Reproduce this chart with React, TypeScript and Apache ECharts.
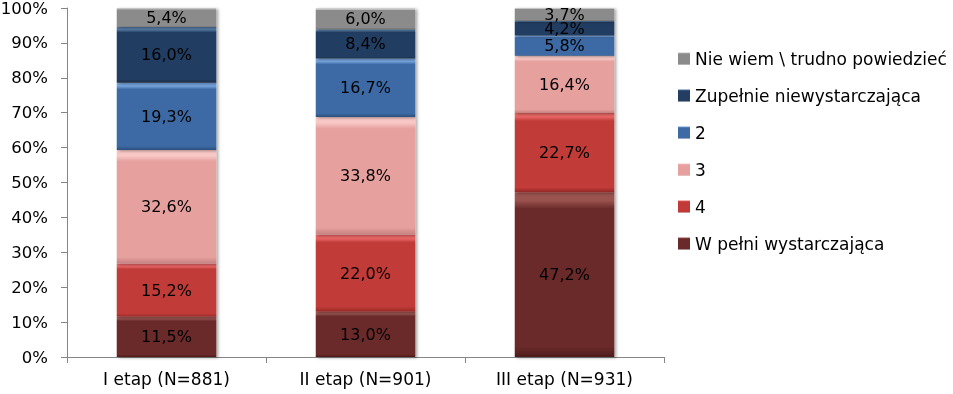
import React, { useEffect, useRef } from "react";
import * as echarts from "echarts";

const categories = ["I etap (N=881)", "II etap (N=901)", "III etap (N=931)"];
const seriesNames = [
  "W pełni wystarczająca",
  "4",
  "3",
  "2",
  "Zupełnie niewystarczająca",
  "Nie wiem \\ trudno powiedzieć",
];
const wPelni = [11.5, 13.0, 47.2];
const cztery = [15.2, 22.0, 22.7];
const trzy = [32.6, 33.8, 16.4];
const dwa = [19.3, 16.7, 5.8];
const zupelnie = [16.0, 8.4, 4.2];
const nieWiem = [5.4, 6.0, 3.7];
const yTicks = [0, 10, 20, 30, 40, 50, 60, 70, 80, 90, 100];

const palette = [
  { light: "#9a5250", base: "#6a2a29", dark: "#4e1c1b" },
  { light: "#e66563", base: "#c13a38", dark: "#922826" },
  { light: "#f8c8c6", base: "#e6a19f", dark: "#c4807e" },
  { light: "#74a2dc", base: "#3d6aa4", dark: "#2b4f7e" },
  { light: "#53779f", base: "#243e62", dark: "#172a45" },
  { light: "#c4c4c4", base: "#8b8b8b", dark: "#666666" },
];

const FONT = "DejaVu Sans";

export default function App() {
  const ref = useRef<HTMLDivElement>(null);
  useEffect(() => {
    if (!ref.current) return;
    const chart = echarts.init(ref.current, undefined, { renderer: "svg" });
    const values = [wPelni, cztery, trzy, dwa, zupelnie, nieWiem];
    const series = values.map((vals, i) => ({
      name: seriesNames[i],
      type: "bar",
      stack: "total",
      barWidth: "50%",
      data: vals,
      itemStyle: {
        color: new echarts.graphic.LinearGradient(0, 0, 0, 1, [
          { offset: 0, color: palette[i].light },
          { offset: 0.05, color: palette[i].light },
          { offset: 0.1, color: palette[i].base },
          { offset: 0.94, color: palette[i].base },
          { offset: 1, color: palette[i].dark },
        ]),
        shadowColor: "rgba(0,0,0,0.35)",
        shadowBlur: 3,
        shadowOffsetX: 2,
        shadowOffsetY: 1,
      },
      label: {
        show: true,
        position: "inside",
        color: "#000",
        fontFamily: FONT,
        fontSize: 16,
        formatter: (p: any) => p.value.toFixed(1).replace(".", ",") + "%",
      },
    }));
    chart.setOption({
      animation: false,
      textStyle: { fontFamily: FONT },
      grid: { left: 67, right: 289, top: 8, bottom: 37, outerBoundsMode: "none", containLabel: false },
      legend: {
        orient: "vertical",
        left: 678,
        top: 50,
        padding: 0,
        icon: "rect",
        itemWidth: 12,
        itemHeight: 12,
        itemGap: 20,
        data: [...seriesNames].reverse(),
        textStyle: { fontSize: 17, color: "#000", fontFamily: FONT, lineHeight: 17 },
      },
      xAxis: {
        type: "category",
        data: categories,
        axisLine: { lineStyle: { color: "#868686" } },
        axisTick: { show: true, length: 6, lineStyle: { color: "#868686" } },
        axisLabel: { color: "#000", fontSize: 17, fontFamily: FONT, margin: 13 },
      },
      yAxis: {
        type: "value",
        min: yTicks[0],
        max: yTicks[yTicks.length - 1],
        interval: 10,
        axisLine: { show: true, lineStyle: { color: "#868686" } },
        axisTick: { show: true, length: 6, lineStyle: { color: "#868686" } },
        splitLine: { show: false },
        axisLabel: {
          color: "#000",
          fontSize: 16.5,
          fontFamily: FONT,
          margin: 19,
          formatter: "{value}%",
        },
      },
      series,
    });
    return () => chart.dispose();
  }, []);
  return (
    <div
      ref={ref}
      style={{ position: "fixed", left: 0, top: 0, width: 953, height: 394 }}
    />
  );
}
